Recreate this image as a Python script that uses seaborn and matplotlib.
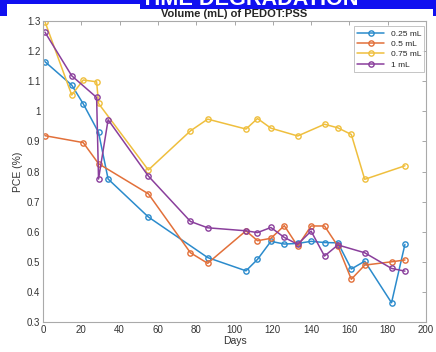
import pandas as pd
import matplotlib
matplotlib.use('Agg')
import matplotlib.pyplot as plt
from matplotlib.patches import Rectangle
import seaborn as sns

# Données
days_025 = [1, 15, 21, 29, 34, 55, 86, 106, 112, 119, 126, 133, 140, 147, 154, 161, 168, 182, 189]
pce_025 = [1.165, 1.087, 1.025, 0.93, 0.775, 0.649, 0.514, 0.47, 0.508, 0.568, 0.559,
           0.561, 0.568, 0.564, 0.563, 0.476, 0.502, 0.364, 0.558]

days_05 = [1, 21, 29, 55, 77, 86, 106, 112, 119, 126, 133, 140, 147, 154, 161, 168, 182, 189]
pce_05 = [0.919, 0.896, 0.826, 0.726, 0.53, 0.495, 0.603, 0.57, 0.578, 0.62, 0.552,
          0.619, 0.619, 0.552, 0.442, 0.489, 0.5, 0.506]

days_075 = [1, 15, 21, 28, 29, 55, 77, 86, 106, 112, 119, 133, 147, 154, 161, 168, 189]
pce_075 = [1.298, 1.054, 1.104, 1.098, 1.026, 0.805, 0.935, 0.974, 0.941, 0.976, 0.944,
           0.918, 0.957, 0.945, 0.923, 0.774, 0.819]

days_1 = [1, 15, 28, 29, 34, 55, 77, 86, 106, 112, 119, 126, 133, 140, 147, 154, 168, 182, 189]
pce_1 = [1.263, 1.118, 1.046, 0.775, 0.972, 0.785, 0.634, 0.613, 0.603, 0.597, 0.614,
         0.581, 0.558, 0.602, 0.519, 0.556, 0.53, 0.478, 0.469]

labels = ['0.25 mL', '0.5 mL', '0.75 mL', '1 mL']
colors = ['#2b8bcc', '#e2703a', '#efbf3e', '#8a3f9c']

x_ticks = list(range(0, 201, 20))
y_ticks = [0.3, 0.4, 0.5, 0.6, 0.7, 0.8, 0.9, 1.0, 1.1, 1.2, 1.3]
y_tick_labels = ['0.3', '0.4', '0.5', '0.6', '0.7', '0.8', '0.9', '1', '1.1', '1.2', '1.3']


def trace():
    sns.set_style('white')
    plt.rcParams['font.family'] = ['Liberation Sans', 'DejaVu Sans']

    series = [(days_025, pce_025), (days_05, pce_05), (days_075, pce_075), (days_1, pce_1)]

    fig = plt.figure(figsize=(4.36, 3.52), dpi=100)
    fig.patch.set_facecolor('#1010f0')
    W, H = 436, 352

    # fond blanc + bandeau bleu (sous les axes)
    fig.patches.append(Rectangle((7 / W, 0), 426 / W, (H - 4) / H, transform=fig.transFigure,
                                 facecolor='white', edgecolor='none', zorder=-3))
    fig.patches.append(Rectangle((0, 0), 1, (H - 16) / H, transform=fig.transFigure,
                                 facecolor='white', edgecolor='none', zorder=-3))
    fig.patches.append(Rectangle((140 / W, (H - 9) / H), 293 / W, 9 / H, transform=fig.transFigure,
                                 facecolor='#1010f0', edgecolor='none', zorder=-1))
    fig.text(250 / W, (H - 5) / H, 'TIME DEGRADATION', color='white', fontsize=15.6,
             fontweight='bold', ha='center', va='baseline', zorder=2)

    ax = fig.add_axes([43 / W, 30 / H, 383 / W, 301 / H])
    ax.set_facecolor('white')

    for (d, p), lab, c in zip(series, labels, colors):
        df = pd.DataFrame({'Days': d, 'PCE': p})
        sns.lineplot(data=df, x='Days', y='PCE', ax=ax, color=c, label=lab,
                     marker='o', markersize=3.8, markerfacecolor='none',
                     markeredgecolor=c, markeredgewidth=1.0, linewidth=1.1,
                     estimator=None, sort=False)

    ax.set_xlim(0, 200)
    ax.set_ylim(0.3, 1.3)
    ax.set_xticks(x_ticks)
    ax.set_yticks(y_ticks)
    ax.set_yticklabels(y_tick_labels)
    ax.tick_params(direction='in', length=3, width=0.6, colors='#999999',
                   labelcolor='#333333', labelsize=7, top=True, right=True, pad=2)
    for s in ax.spines.values():
        s.set_visible(True)
        s.set_color('#aaaaaa')
        s.set_linewidth(0.8)

    ax.set_title('Volume (mL) of PEDOT:PSS', fontsize=8, fontweight='bold', pad=2.8)
    ax.set_xlabel('Days', fontsize=7.5, color='#333333', labelpad=1)
    ax.set_ylabel('PCE (%)', fontsize=7.5, color='#333333', labelpad=3)

    leg = ax.legend(loc='upper right', fontsize=6, frameon=True, fancybox=False,
                    handlelength=3.2, borderpad=0.4, labelspacing=0.3,
                    borderaxespad=0.1, bbox_to_anchor=(0.998, 0.985))
    leg.get_frame().set_edgecolor('#aaaaaa')
    leg.get_frame().set_linewidth(0.6)

    fig.savefig('out.png', dpi=100, facecolor=fig.get_facecolor())


if __name__ == "__main__":
    trace()
